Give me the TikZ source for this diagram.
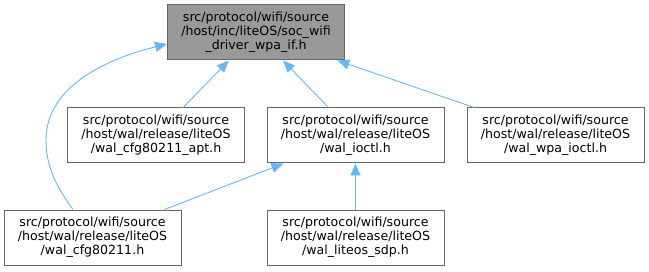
\documentclass[tikz,border=0pt]{standalone}
\usepackage{fontspec}
\setmainfont{DejaVu Sans}
\usepackage{tikz}
\usetikzlibrary{arrows.meta,positioning,calc}
\definecolor{edgeblue}{HTML}{63B8FF}
\definecolor{boxgray}{HTML}{666666}
\definecolor{curfill}{HTML}{999999}

\begin{document}
\begin{tikzpicture}[x=1pt, y=1pt,
  file/.style={draw=boxgray, line width=1pt, fill=white, minimum width=177pt, minimum height=55pt, inner sep=0pt, align=center, font=\fontsize{12.6}{14}\selectfont},
  curfile/.style={file, fill=curfill},
  dep/.style={draw=edgeblue, line width=0.9pt, -{Triangle[length=12pt, width=10pt]}}
]
\useasboundingbox (0,0) rectangle (649,271);

\node[curfile] (socif) at (256,238.5) {src/protocol/wifi/source\\/host/inc/liteOS/soc\_wifi\\\_driver\_wpa\_if.h};

\node[file] (apt) at (156,135.5) {src/protocol/wifi/source\\/host/wal/release/liteOS\\/wal\_cfg80211\_apt.h};
\node[file] (ioctl) at (355.5,135.5) {src/protocol/wifi/source\\/host/wal/release/liteOS\\/wal\_ioctl.h};
\node[file] (wpaioctl) at (555.5,135.5) {src/protocol/wifi/source\\/host/wal/release/liteOS\\/wal\_wpa\_ioctl.h};

\node[file] (cfg) at (92.5,33.5) {src/protocol/wifi/source\\/host/wal/release/liteOS\\/wal\_cfg80211.h};
\node[file] (sdp) at (355.5,33.5) {src/protocol/wifi/source\\/host/wal/release/liteOS\\/wal\_liteos\_sdp.h};

\draw[dep] (apt) -- (socif);
\draw[dep] (ioctl) -- (socif);
\draw[dep] (wpaioctl) -- (socif);
\draw[dep] ([xshift=-19.5pt]cfg.north) .. controls (55,86) and (46,106) .. (46,131)
  .. controls (46,186) and (110,213) .. ([yshift=-11.5pt]socif.west);
\draw[dep] (cfg) -- (ioctl);
\draw[dep] (sdp) -- (ioctl);

\end{tikzpicture}
\end{document}
